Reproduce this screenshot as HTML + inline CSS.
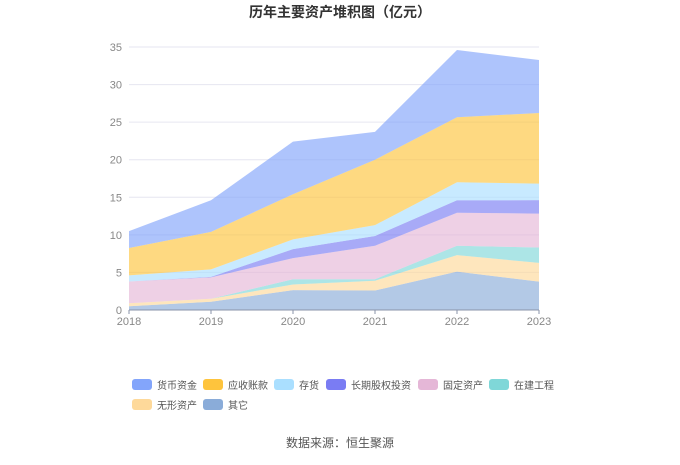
<!DOCTYPE html>
<html><head><meta charset="utf-8"><style>
body{margin:0;background:#fff;font-family:"Liberation Sans","Noto Sans CJK SC",sans-serif;}
svg text{font-family:"Liberation Sans","Noto Sans CJK SC",sans-serif;}
</style></head><body>
<svg id="c" width="680" height="460" xmlns="http://www.w3.org/2000/svg">
<text x="340" y="17" text-anchor="middle" font-size="14" font-weight="bold" fill="#333">历年主要资产堆积图（亿元）</text>
<g id="grid"></g><g id="areas"></g><g id="axes"></g><g id="legend"></g>
<text x="340" y="447" text-anchor="middle" font-size="12" fill="#555">数据来源：恒生聚源</text>
</svg>
<script>
const years=["2018","2019","2020","2021","2022","2023"];
const seriesNames=["其它","无形资产","在建工程","固定资产","长期股权投资","存货","应收账款","货币资金"];
const other=[0.5,1.1,2.65,2.6,5.1,3.77];
const intangible=[0.4,0.4,0.75,1.3,2.2,2.5];
const construction=[0,0,0.7,0.2,1.25,2.05];
const fixedAssets=[2.9,2.85,2.8,4.45,4.4,4.5];
const equityInv=[0,0.05,1.2,1.3,1.65,1.8];
const inventory=[0.8,1.0,1.3,1.45,2.4,2.2];
const receivables=[3.65,5.0,6.0,8.7,8.65,9.4];
const cash=[2.25,4.2,7.0,3.7,8.95,7.05];
const yTicks=[0,5,10,15,20,25,30,35];
const seriesData=[other,intangible,construction,fixedAssets,equityInv,inventory,receivables,cash];
const colors=["#8aacd9","#fed99a","#7fd7d8","#e5b7d7","#7a7cf3","#aadfff","#fec43d","#83a5fb"];
const legendOrder=["货币资金","应收账款","存货","长期股权投资","固定资产","在建工程","无形资产","其它"];
const legendPos=[[132,385],[203,385],[274,385],[326,385],[418,385],[489,385],[132,405],[203,405]];
const NS="http://www.w3.org/2000/svg";
const X0=129,X1=539,Y0=310,YTOP=47,YMAX=35;
const xs=i=>X0+i*(X1-X0)/(years.length-1);
const ys=v=>Y0-v*(Y0-YTOP)/YMAX;
function mk(t,a,p){const e=document.createElementNS(NS,t);for(const k in a)e.setAttribute(k,a[k]);p.appendChild(e);return e;}
const grid=document.getElementById('grid'),axes=document.getElementById('axes'),areas=document.getElementById('areas'),legend=document.getElementById('legend');
yTicks.forEach(t=>{
 const l=mk('line',{x1:X0,x2:X1,y1:ys(t),y2:ys(t),stroke:'#e6e6f0','stroke-width':1},grid);
 
 
 const tx=mk('text',{x:X0-7,y:ys(t)+4,'text-anchor':'end','font-size':11,fill:'#888'},axes);tx.textContent=t;
 
 
});
const ax=mk('line',{x1:X0,x2:X1,y1:Y0,y2:Y0,stroke:'#8a93a8','stroke-width':1},axes);


years.forEach((y,i)=>{
 const tk=mk('line',{x1:xs(i),x2:xs(i),y1:Y0,y2:Y0+4,stroke:'#8a93a8'},axes);
 
 
 const tx=mk('text',{x:xs(i),y:Y0+15,'text-anchor':'middle','font-size':11,fill:'#888'},axes);tx.textContent=y;
 
 
});
let base=years.map(()=>0);
seriesData.forEach((s,k)=>{
 const top=base.map((b,i)=>b+s[i]);
 let d='M'+years.map((_,i)=>xs(i)+','+ys(top[i])).join('L');
 for(let i=years.length-1;i>=0;i--)d+='L'+xs(i)+','+ys(base[i]);
 const p=mk('path',{d:d+'Z',fill:colors[k],'fill-opacity':0.65},areas);
 
 
 base=top;
});
legendOrder.forEach((n,j)=>{
 const k=seriesNames.indexOf(n);const [lx,ly]=legendPos[j];
 const g=mk('g',{},legend);
 
 
 mk('rect',{x:lx,y:ly-6,width:20,height:11,rx:3,fill:colors[k]},g);
 const t=mk('text',{x:lx+25,y:ly+4,'font-size':10,fill:'#555'},g);t.textContent=n;
});
</script>
</body></html>
